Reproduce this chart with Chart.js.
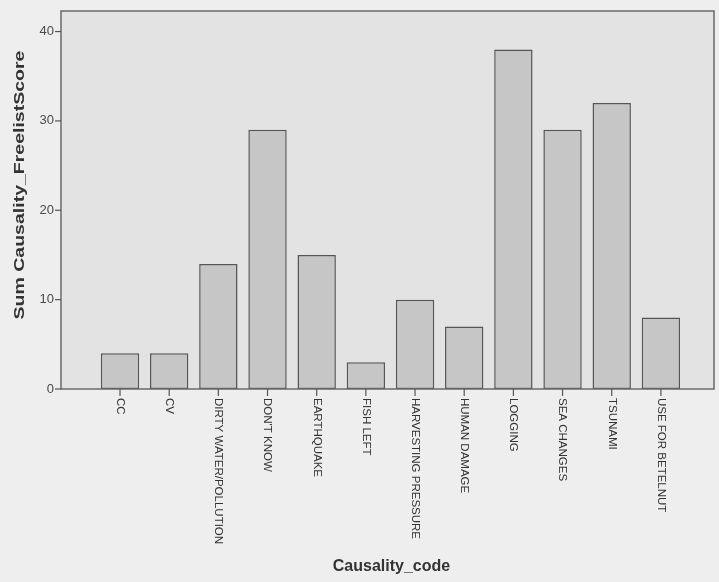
<!DOCTYPE html>
<html>
<head>
<meta charset="utf-8">
<script src="https://cdn.jsdelivr.net/npm/chart.js@4/dist/chart.umd.min.js"></script>
<style>
html,body{margin:0;padding:0;background:#eeeeee;}
canvas{display:block;}
</style>
</head>
<body>
<canvas id="c" width="719" height="582"></canvas>
<script>
const categories = ["CC","CV","DIRTY WATER/POLLUTION","DON'T KNOW","EARTHQUAKE","FISH LEFT","HARVESTING PRESSURE","HUMAN DAMAGE","LOGGING","SEA CHANGES","TSUNAMI","USE FOR BETELNUT"];
const values = [4, 4, 14, 29, 15, 3, 10, 7, 38, 29, 32, 8];
const yTicks = [0, 10, 20, 30, 40];
const xTitle = "Causality_code";
const yTitle = "Sum Causality_FreelistScore";

const decor = {
  id: 'decor',
  beforeDraw(chart) {
    const ctx = chart.ctx, a = chart.chartArea;
    ctx.save();
    ctx.fillStyle = '#eeeeee';
    ctx.fillRect(0, 0, chart.width, chart.height);
    ctx.fillStyle = '#e3e3e3';
    ctx.fillRect(a.left, a.top, a.right - a.left, a.bottom - a.top);
    ctx.restore();
  },
  afterDatasetsDraw(chart) {
    const ctx = chart.ctx, a = chart.chartArea;
    const xs = chart.scales.x, ys = chart.scales.y;
    ctx.save();
    ctx.strokeStyle = '#6a6a6a';
    ctx.lineWidth = 1.5;
    ctx.strokeRect(a.left, a.top, a.right - a.left, a.bottom - a.top);
    ctx.strokeStyle = '#555';
    ctx.lineWidth = 1.2;
    ctx.fillStyle = '#4a4a4a';
    ctx.font = '13px "Liberation Sans", Arial, sans-serif';
    ctx.textAlign = 'right';
    ctx.textBaseline = 'middle';
    yTicks.forEach(t => {
      const y = ys.getPixelForValue(t);
      ctx.beginPath();
      ctx.moveTo(a.left - 6, y);
      ctx.lineTo(a.left, y);
      ctx.stroke();
      ctx.fillText(String(t), a.left - 7, y);
    });
    ctx.fillStyle = '#333';
    ctx.font = '11.5px "Liberation Sans", Arial, sans-serif';
    categories.forEach((c, i) => {
      const x = xs.getPixelForValue(i);
      ctx.beginPath();
      ctx.moveTo(x, a.bottom);
      ctx.lineTo(x, a.bottom + 7);
      ctx.stroke();
      ctx.save();
      ctx.translate(x, a.bottom + 9);
      ctx.rotate(Math.PI / 2);
      ctx.textAlign = 'left';
      ctx.textBaseline = 'middle';
      ctx.fillText(c, 0, 0);
      ctx.restore();
    });
    ctx.fillStyle = '#333';
    ctx.font = 'bold 16px "Liberation Sans", Arial, sans-serif';
    ctx.textAlign = 'center';
    ctx.textBaseline = 'middle';
    ctx.fillText(xTitle, (a.left + a.right) / 2 + 4, 567);
    ctx.save();
    ctx.translate(20, 185);
    ctx.rotate(-Math.PI / 2);
    ctx.scale(1.3, 1);
    ctx.font = 'bold 15px "Liberation Sans", Arial, sans-serif';
    ctx.textAlign = 'center';
    ctx.textBaseline = 'middle';
    ctx.fillText(yTitle, 0, 0);
    ctx.restore();
    ctx.restore();
  }
};

new Chart(document.getElementById('c'), {
  type: 'bar',
  data: {
    datasets: [{
      data: values.map((v, i) => ({ x: i, y: v })),
      backgroundColor: '#c6c6c6',
      borderColor: '#555555',
      borderWidth: 1.5,
      borderSkipped: false,
      barPercentage: 0.78,
      categoryPercentage: 1.0
    }]
  },
  options: {
    responsive: false,
    animation: false,
    layout: { padding: { left: 61, right: 5, top: 11, bottom: 193 } },
    plugins: { legend: { display: false }, tooltip: { enabled: false } },
    scales: {
      x: { type: 'linear', offset: false, min: -1.2, max: 12.08, display: false },
      y: { min: 0, max: 42.3, display: false }
    }
  },
  plugins: [decor]
});
</script>
</body>
</html>
